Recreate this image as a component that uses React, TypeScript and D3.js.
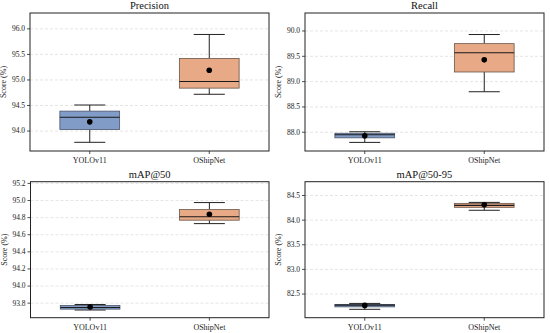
import React from "react";
import * as d3 from "d3";

const models = ["YOLOv11", "OShipNet"];
const metricTitles = ["Precision", "Recall", "mAP@50", "mAP@50-95"];
// per metric, per model: [whiskerLow, q1, median, q3, whiskerHigh, mean]
const precisionStats = [
  [93.78, 94.03, 94.27, 94.39, 94.51, 94.18],
  [94.72, 94.84, 94.97, 95.42, 95.89, 95.19],
];
const recallStats = [
  [87.8, 87.89, 87.95, 87.98, 88.01, 87.93],
  [88.8, 89.19, 89.57, 89.75, 89.93, 89.43],
];
const map50Stats = [
  [93.72, 93.73, 93.749, 93.772, 93.784, 93.755],
  [94.73, 94.77, 94.81, 94.894, 94.976, 94.84],
];
const map5095Stats = [
  [82.19, 82.24, 82.275, 82.29, 82.31, 82.27],
  [84.2, 84.26, 84.3, 84.34, 84.36, 84.31],
];
const yDomains = [
  [93.61, 96.31],
  [87.63, 90.355],
  [93.63, 95.22],
  [82.02, 84.78],
];
const yTicks = [
  [94.0, 94.5, 95.0, 95.5, 96.0],
  [88.0, 88.5, 89.0, 89.5, 90.0],
  [93.8, 94.0, 94.2, 94.4, 94.6, 94.8, 95.0, 95.2],
  [82.5, 83.0, 83.5, 84.0, 84.5],
];
const allStats = [precisionStats, recallStats, map50Stats, map5095Stats];
const fillColors = ["#829CC8", "#E7A986"];
const edgeColors = ["#4a5468", "#6a5548"];

const FONT = "'Liberation Serif', 'Times New Roman', serif";

function Panel({ idx, x0, y0, w, h }: { idx: number; x0: number; y0: number; w: number; h: number }) {
  const y = d3.scaleLinear().domain(yDomains[idx]).range([y0 + h, y0]);
  const x = d3.scaleLinear().domain([-0.5, 1.5]).range([x0, x0 + w]);
  const unit = x(1) - x(0);
  const boxW = unit * 0.5;
  const capW = unit * 0.26;
  const fmt = d3.format(".1f");
  return (
    <g>
      <text x={x0 + w / 2} y={y0 - 4} textAnchor="middle" fontFamily={FONT} fontSize={10.5} fill="#111">
        {metricTitles[idx]}
      </text>
      {yTicks[idx].map((t) => (
        <g key={t}>
          <line x1={x0} x2={x0 + w} y1={y(t)} y2={y(t)} stroke="#d4d4d4" strokeWidth={0.6} strokeDasharray="3,2" />
          <line x1={x0 - 3} x2={x0} y1={y(t)} y2={y(t)} stroke="#222" strokeWidth={0.8} />
          <text x={x0 - 5} y={y(t)} dy="0.32em" textAnchor="end" fontFamily={FONT} fontSize={7.5} fill="#222">
            {fmt(t)}
          </text>
        </g>
      ))}
      <text
        transform={`translate(${x0 - 24},${y0 + h / 2}) rotate(-90)`}
        textAnchor="middle"
        fontFamily={FONT}
        fontSize={8}
        fill="#222"
      >
        Score (%)
      </text>
      {models.map((m, i) => {
        const [lo, q1, med, q3, hi, mean] = allStats[idx][i];
        const cx = x(i);
        return (
          <g key={m}>
            <line x1={cx} x2={cx} y1={y(hi)} y2={y(q3)} stroke="#222" strokeWidth={1} />
            <line x1={cx} x2={cx} y1={y(q1)} y2={y(lo)} stroke="#222" strokeWidth={1} />
            <line x1={cx - capW / 2} x2={cx + capW / 2} y1={y(hi)} y2={y(hi)} stroke="#222" strokeWidth={1} />
            <line x1={cx - capW / 2} x2={cx + capW / 2} y1={y(lo)} y2={y(lo)} stroke="#222" strokeWidth={1} />
            <rect
              x={cx - boxW / 2}
              y={y(q3)}
              width={boxW}
              height={Math.max(0.5, y(q1) - y(q3))}
              fill={fillColors[i]}
              stroke={edgeColors[i]}
              strokeWidth={0.8}
            />
            <line x1={cx - boxW / 2} x2={cx + boxW / 2} y1={y(med)} y2={y(med)} stroke="#1a1a1a" strokeWidth={1.1} />
            <circle cx={cx} cy={y(mean)} r={2.8} fill="#000" />
            <line x1={cx} x2={cx} y1={y0 + h} y2={y0 + h + 3} stroke="#222" strokeWidth={0.8} />
            <text x={cx} y={y0 + h + 12} textAnchor="middle" fontFamily={FONT} fontSize={8} fill="#222">
              {m}
            </text>
          </g>
        );
      })}
      <rect x={x0} y={y0} width={w} height={h} fill="none" stroke="#222" strokeWidth={1} />
    </g>
  );
}

export default function App() {
  const panels = [
    { x0: 30, y0: 13, w: 239, h: 138 },
    { x0: 305, y0: 13, w: 239, h: 138 },
    { x0: 30.5, y0: 181.7, w: 238.5, h: 136 },
    { x0: 305, y0: 181.7, w: 239, h: 136 },
  ];
  return (
    <svg
      width={550}
      height={333}
      style={{ position: "absolute", left: 0, top: 0, background: "#fff" }}
    >
      <rect width={550} height={333} fill="#fff" />
      {panels.map((p, i) => (
        <Panel key={i} idx={i} {...p} />
      ))}
    </svg>
  );
}
